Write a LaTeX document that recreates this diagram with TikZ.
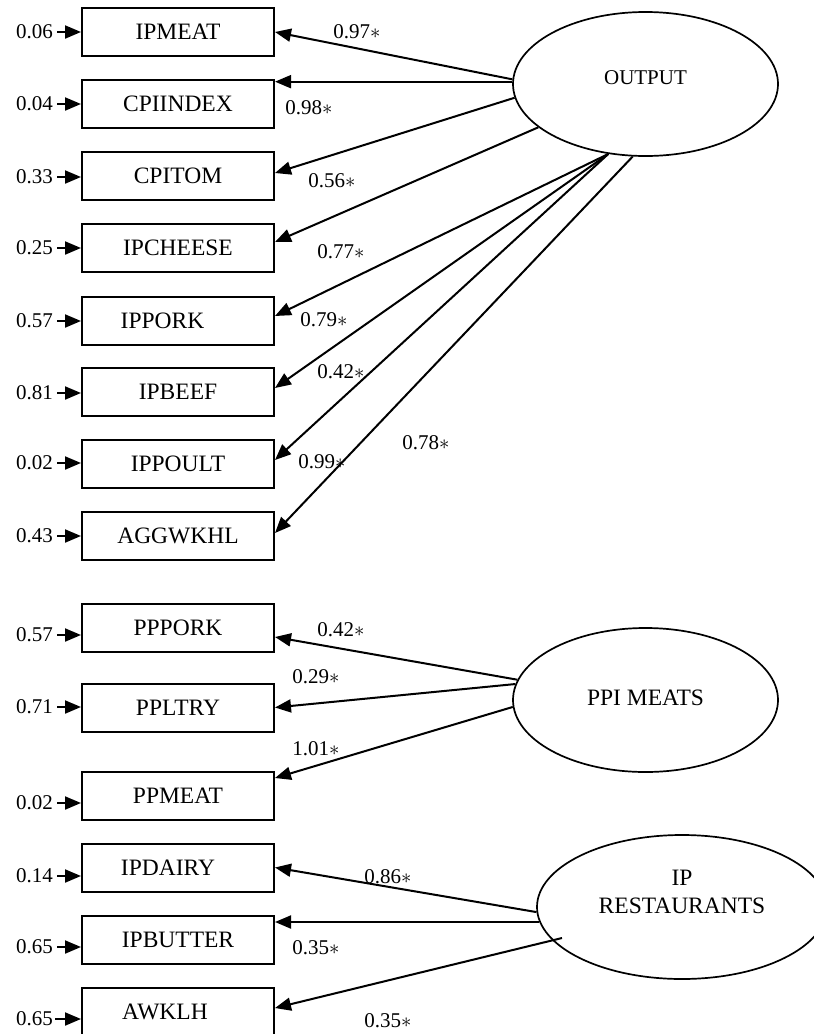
\documentclass[tikz,border=0pt]{standalone}
\usepackage{fontspec}
\setmainfont{Liberation Serif}
\usetikzlibrary{shapes.geometric,arrows.meta}
\newcommand\boxfont{\fontsize{23.5}{28}\selectfont}
\newcommand\numfont{\fontsize{21}{25}\selectfont}
\newcommand\ld[1]{#1$\ast$}
\begin{document}
\begin{tikzpicture}[x=1pt,y=-1pt,
  obs/.style={draw, line width=2pt, minimum width=192pt, minimum height=48pt, inner sep=0pt, font=\boxfont},
  latent/.style={draw, ellipse, line width=1.7pt, minimum width=265pt, minimum height=144pt, inner sep=0pt},
  lattext/.style={inner sep=0pt, align=center},
  err/.style={anchor=east, inner sep=2pt, font=\numfont},
  load/.style={inner sep=0pt, font=\numfont},
  arr/.style={draw, line width=2pt, -{Triangle[length=16pt,width=13pt]}},
]
\useasboundingbox (0,0) rectangle (814,1034);

% observed indicators
\node[obs] (ipmeat)   at (178,32)    {IPMEAT};
\node[obs] (cpiindex) at (178,104)   {CPIINDEX};
\node[obs] (cpitom)   at (178,176)   {CPITOM};
\node[obs] (ipcheese) at (178,248)   {IPCHEESE};
\node[obs] (ippork)   at (178,320.5) {\hspace*{-31pt}IPPORK};
\node[obs] (ipbeef)   at (178,392)   {IPBEEF};
\node[obs] (ippoult)  at (178,464)   {IPPOULT};
\node[obs] (aggwkhl)  at (178,536)   {AGGWKHL};
\node[obs] (pppork)   at (178,627.5) {PPPORK};
\node[obs] (ppltry)   at (178,707.5) {PPLTRY};
\node[obs] (ppmeat)   at (178,796)   {PPMEAT};
\node[obs] (ipdairy)  at (178,867.5) {\hspace*{-20pt}IPDAIRY};
\node[obs] (ipbutter) at (178,939.5) {IPBUTTER};
\node[obs] (awklh)    at (178,1012)  {\hspace*{-26pt}AWKLH};

% latent factors
\node[latent, label={[lattext, font=\numfont, yshift=6pt]center:OUTPUT}] (output) at (645.5,84) {};
\node[latent, label={[lattext, font=\boxfont, yshift=2pt]center:PPI MEATS}] (ppi) at (645.5,700) {};
\node[latent, minimum width=290pt, label={[lattext, font=\boxfont, yshift=15pt]center:IP\\RESTAURANTS}] (iprest) at (682,907) {};

% error variances
\node[err] (e1)  at (55,32)   {0.06};
\node[err] (e2)  at (55,104)  {0.04};
\node[err] (e3)  at (55,177)  {0.33};
\node[err] (e4)  at (55,248)  {0.25};
\node[err] (e5)  at (55,321)  {0.57};
\node[err] (e6)  at (55,393)  {0.81};
\node[err] (e7)  at (55,463)  {0.02};
\node[err] (e8)  at (55,536)  {0.43};
\node[err] (e9)  at (55,635)  {0.57};
\node[err] (e10) at (55,707)  {0.71};
\node[err] (e11) at (55,803)  {0.02};
\node[err] (e12) at (55,876)  {0.14};
\node[err] (e13) at (55,947)  {0.65};
\node[err] (e14) at (55,1019) {0.65};

\draw[arr] ([xshift=2pt]e1.east)  -- (e1.east  -| ipmeat.west);
\draw[arr] ([xshift=2pt]e2.east)  -- (e2.east  -| cpiindex.west);
\draw[arr] ([xshift=2pt]e3.east)  -- (e3.east  -| cpitom.west);
\draw[arr] ([xshift=2pt]e4.east)  -- (e4.east  -| ipcheese.west);
\draw[arr] ([xshift=2pt]e5.east)  -- (e5.east  -| ippork.west);
\draw[arr] ([xshift=2pt]e6.east)  -- (e6.east  -| ipbeef.west);
\draw[arr] ([xshift=2pt]e7.east)  -- (e7.east  -| ippoult.west);
\draw[arr] ([xshift=2pt]e8.east)  -- (e8.east  -| aggwkhl.west);
\draw[arr] ([xshift=2pt]e9.east)  -- (e9.east  -| pppork.west);
\draw[arr] ([xshift=2pt]e10.east) -- (e10.east -| ppltry.west);
\draw[arr] ([xshift=2pt]e11.east) -- (e11.east -| ppmeat.west);
\draw[arr] ([xshift=2pt]e12.east) -- (e12.east -| ipdairy.west);
\draw[arr] ([xshift=2pt]e13.east) -- (e13.east -| ipbutter.west);
\draw[arr] (e14.east) -- (e14.east -| awklh.west);

% factor loadings
\draw[arr] (output.178.3) -- (ipmeat.east);
\draw[arr] (output.179.6) -- (output.179.6 -| cpiindex.east);
\draw[arr] (output.186.1) -- ([yshift=3pt]cpitom.east);
\draw[arr] (output.202.3) -- ([yshift=6pt]ipcheese.east);
\draw[arr] (output.242.4) -- ([yshift=4.5pt]ippork.east);
\draw[arr] (output.242.4) -- ([yshift=4pt]ipbeef.east);
\draw[arr] (output.242.4) -- ([yshift=4pt]ippoult.east);
\draw[arr] (output.260.2) -- ([yshift=3pt]aggwkhl.east);

\draw[arr] (ppi.171.2) -- ([yshift=-9.5pt]pppork.east);
\draw[arr] (ppi.173)   -- (ppltry.east);
\draw[arr] (ppi.183.1) -- ([yshift=18pt]ppmeat.east);

\draw[arr] (iprest.182.8) -- (ipdairy.east);
\draw[arr] (iprest.186.7) -- (iprest.186.7 -| ipbutter.east);
\draw[arr] ([xshift=-120pt,yshift=-31pt]iprest.center) -- ([yshift=4pt]awklh.east);

% loading values
\node[load] (l1)  at (357,32)   {\ld{0.97}};
\node[load] (l2)  at (309,108)  {\ld{0.98}};
\node[load] (l3)  at (332,181)  {\ld{0.56}};
\node[load] (l4)  at (341,252)  {\ld{0.77}};
\node[load] (l5)  at (324,320)  {\ld{0.79}};
\node[load] (l6)  at (341,372)  {\ld{0.42}};
\node[load] (l7)  at (322,462)  {\ld{0.99}};
\node[load] (l8)  at (426,443)  {\ld{0.78}};
\node[load] (l9)  at (341,630)  {\ld{0.42}};
\node[load] (l10) at (316,677)  {\ld{0.29}};
\node[load] (l11) at (316,749)  {\ld{1.01}};
\node[load] (l12) at (388,877)  {\ld{0.86}};
\node[load] (l13) at (316,948)  {\ld{0.35}};
\node[load] (l14) at (388,1021) {\ld{0.35}};
\end{tikzpicture}
\end{document}
